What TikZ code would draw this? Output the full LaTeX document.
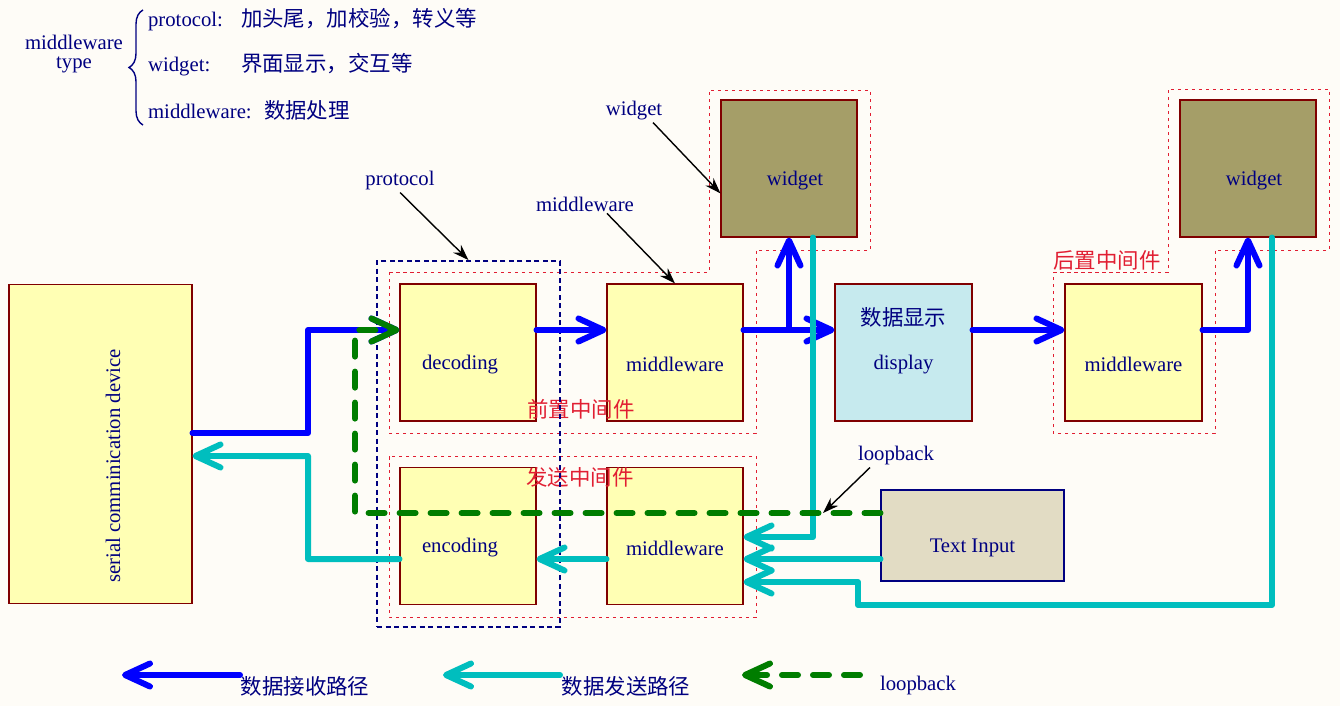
\documentclass[tikz,border=0pt]{standalone}
\usepackage{fontspec}
\setmainfont{Liberation Serif}
\newfontfamily\cjk{Noto Sans CJK SC}
\usetikzlibrary{arrows.meta,decorations.pathreplacing}

\definecolor{bgpaper}{RGB}{254,252,247}
\definecolor{boxyel}{RGB}{255,255,180}
\definecolor{boxedge}{RGB}{128,0,0}
\definecolor{olivebox}{RGB}{165,158,104}
\definecolor{dispbox}{RGB}{198,234,238}
\definecolor{inbox}{RGB}{226,220,196}
\definecolor{navy}{RGB}{0,0,128}
\definecolor{rxblue}{RGB}{0,0,255}
\definecolor{txcyan}{RGB}{0,190,190}
\definecolor{lbgreen}{RGB}{0,125,0}
\definecolor{grpred}{RGB}{225,30,50}

\newcommand\zh[1]{{\cjk\fontsize{12.2}{14}\selectfont #1}}

\tikzset{
	fat/.tip={Straight Barb[round,length=0.5cm,width=0.46cm]},
	mbox/.style={draw=boxedge,fill=boxyel,line width=0.6pt,minimum width=2.72cm,minimum height=2.74cm,inner sep=0pt},
	wbox/.style={mbox,fill=olivebox},
	boxtxt/.style={label={[text=navy,yshift=-0.24cm]center:#1}},
	rxpath/.style={rxblue,line width=0.12cm,line cap=round,line join=round,-{fat}},
	txpath/.style={txcyan,line width=0.12cm,line cap=round,line join=round,-{fat}},
	lbpath/.style={lbgreen,line width=0.12cm,line cap=round,line join=round,dash pattern=on 0.32cm off 0.3cm,-{fat}},
	grp/.style={grpred,dash pattern=on 0.07cm off 0.07cm,line width=0.5pt},
	grptxt/.style={text=grpred,font={\cjk\fontsize{12.2}{14}\selectfont}},
	note/.style={text=navy,inner sep=1pt},
	pointer/.style={black,line width=0.8pt,-{Stealth[length=0.32cm,width=0.22cm]}}
}

\begin{document}
\begin{tikzpicture}[x=0.02cm,y=-0.02cm,every node/.append style={font=\fontsize{11.8}{14}\selectfont}]
	\fill[bgpaper] (0,0) rectangle (1340,706);
	\useasboundingbox (0,0) rectangle (1340,706);

	%% middleware type legend
	\node[note,align=center] (mtype) at (74,54) {middleware\\[-0.1cm]type};
	\node[note,anchor=west] (lprot) at (146,20) {\makebox[1.86cm][l]{protocol:}\zh{加头尾，加校验，转义等}};
	\node[note,anchor=west] (lwid) at (146,65) {\makebox[1.86cm][l]{widget:}\zh{界面显示，交互等}};
	\node[note,anchor=west] (lmid) at (146,110) {\makebox[2.32cm][l]{middleware:}\zh{数据处理}};
	\draw[navy,line width=0.8pt,decorate,decoration={brace,amplitude=0.28cm}] (143,125) -- (143,10);

	%% boxes
	\node[mbox,minimum width=3.66cm,minimum height=6.4cm] (dev) at (100.5,444) {};
	\node[text=navy,rotate=90] (devtxt) at (113,466) {serial comminication device};
	\node[mbox,label={[text=navy,xshift=-0.16cm,yshift=-0.24cm]center:decoding}] (dec) at (468,352.5) {};
	\node[mbox,boxtxt=middleware] (mwa) at (675,352.5) {};
	\node[mbox,fill=dispbox,minimum width=2.74cm,label={[text=navy,yshift=0.71cm]center:\zh{数据显示}},boxtxt=display] (disp) at (903.5,352.5) {};
	\node[mbox,minimum width=2.74cm,boxtxt=middleware] (mwc) at (1133.5,352.5) {};
	\node[wbox,label={[text=navy,xshift=0.12cm,yshift=-0.24cm]center:widget}] (wid1) at (789,168.5) {};
	\node[wbox,label={[text=navy,xshift=0.12cm,yshift=-0.24cm]center:widget}] (wid2) at (1248,168.5) {};
	\node[mbox,label={[text=navy,xshift=-0.16cm,yshift=-0.24cm]center:encoding}] (enc) at (468,536) {};
	\node[mbox,boxtxt=middleware] (mwb) at (675,536) {};
	\node[mbox,draw=navy,fill=inbox,minimum width=3.66cm,minimum height=1.82cm,boxtxt=Text Input] (txt) at (972.5,535.5) {};

	%% groups
	\draw[grp] (389,272) -- (709,272) -- (709,90) -- (870,90) -- (870,250) -- (756,250) -- (756,433) -- (389,433) -- cycle;
	\draw[grp] (389,456) rectangle (756,617);
	\draw[grp] (1053,272) -- (1168,272) -- (1168,89) -- (1329,89) -- (1329,250) -- (1215,250) -- (1215,433) -- (1053,433) -- cycle;
	\node[grptxt] (gpre) at (581,409) {前置中间件};
	\node[grptxt] (gsend) at (580,477) {发送中间件};
	\node[grptxt] (gpost) at (1107,260) {后置中间件};
	\node[draw=navy,dash pattern=on 0.1cm off 0.07cm,line width=1.1pt,minimum width=3.66cm,minimum height=7.32cm] (protbox) at (468.5,444) {};

	\coordinate (rxrow) at (0,330);
	\coordinate (tx1) at (0,537);
	\coordinate (tx2) at (0,559);
	\coordinate (tx3) at (0,582);
	\coordinate (lbrow) at (0,513);

	%% receive path
	\draw[rxpath] ([yshift=0.22cm]dev.east) -| (308,330) -- (dec.west |- rxrow);
	\draw[rxpath] (dec.east |- rxrow) -- (mwa.west |- rxrow);
	\draw[rxpath] (mwa.east |- rxrow) -- (disp.west |- rxrow);
	\draw[rxpath] (wid1.south |- rxrow) -- (wid1.south);
	\draw[rxpath] (disp.east |- rxrow) -- (mwc.west |- rxrow);
	\draw[rxpath] (mwc.east |- rxrow) -| (wid2.south);

	%% send path
	\draw[txpath] ([xshift=0.48cm]wid1.south) |- (mwb.east |- tx1);
	\draw[txpath] (txt.west |- tx2) -- (mwb.east |- tx2);
	\draw[txpath] ([xshift=0.48cm]wid2.south) |- (858,605) |- (mwb.east |- tx3);
	\draw[txpath] (mwb.west |- tx2) -- (enc.east |- tx2);
	\draw[txpath] (enc.west |- tx2) -| (308,456) -- ([yshift=-0.24cm]dev.east);

	%% loopback
	\draw[lbpath] (txt.west |- lbrow) -| (355,330) -- (dec.west |- rxrow);

	%% notes
	\node[note] (nprot) at (400,181) {protocol};
	\node[note] (nmid) at (585,204) {middleware};
	\node[note] (nwid) at (634,111) {widget};
	\node[note] (nlb) at (896,456) {loopback};
	\coordinate (lbtip) at (823,513);
	\draw[pointer] (nprot.south) -- (protbox.north);
	\draw[pointer] ([xshift=0.44cm]nmid.south) -- (mwa.north);
	\draw[pointer] ([xshift=0.38cm]nwid.south) -- (wid1.200);
	\draw[pointer] ([xshift=-0.52cm]nlb.south) -- (lbtip);

	%% path legend
	\coordinate (krx) at (240,675);
	\coordinate (ktx) at (560,675);
	\coordinate (klb) at (860,675);
	\draw[rxpath] (krx) -- ++(-118,0);
	\draw[txpath] (ktx) -- ++(-117,0);
	\draw[lbpath] (klb) -- ++(-118,0);
	\node[note] (lrx) at (305,686) {\zh{数据接收路径}};
	\node[note] (ltx) at (626,686) {\zh{数据发送路径}};
	\node[note] (llb) at (918,686) {loopback};
\end{tikzpicture}
\end{document}
